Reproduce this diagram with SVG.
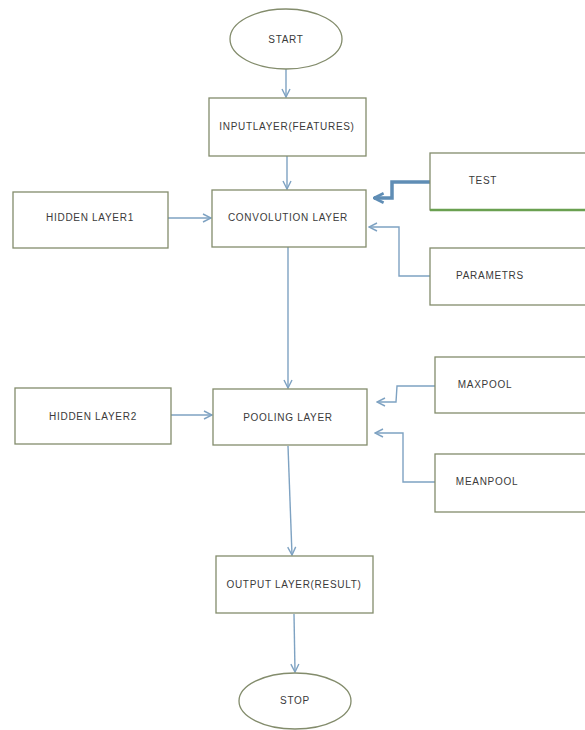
<svg xmlns="http://www.w3.org/2000/svg" width="585" height="730" viewBox="0 0 585 730">
<style>
.box{fill:#fff;stroke:#838c6c;stroke-width:1.3}
.lbl{font-family:"Liberation Sans",Arial,sans-serif;font-size:10px;letter-spacing:0.7px;fill:#3a3a3a;text-anchor:middle;dominant-baseline:middle}
.c{fill:none;stroke:#7ea2c2;stroke-width:1.4}
.ct{fill:none;stroke:#5f8db5;stroke-width:3.5}
</style>
<defs>
<marker id="ah" viewBox="0 0 10 10" refX="9" refY="5" markerWidth="10" markerHeight="10" markerUnits="userSpaceOnUse" orient="auto">
<path d="M1,1 L9,5 L1,9" fill="none" stroke="#7ea2c2" stroke-width="1.4"/>
</marker>
<marker id="aht" viewBox="0 0 10 10" refX="9" refY="5" markerWidth="12" markerHeight="12" markerUnits="userSpaceOnUse" orient="auto">
<path d="M1,1 L9,5 L1,9" fill="none" stroke="#5f8db5" stroke-width="2.2"/>
</marker>
</defs>
<rect width="585" height="730" fill="#fff"/>
<g id="connectors">
<path class="c" d="M286,69 V97" marker-end="url(#ah)"/>
<path class="c" d="M287,156 V189" marker-end="url(#ah)"/>
<path class="c" d="M168,218 H211" marker-end="url(#ah)"/>
<path class="ct" d="M430,182 H392 V198 H374" marker-end="url(#aht)"/>
<path class="c" d="M430,276 H399 V227 H369" marker-end="url(#ah)"/>
<path class="c" d="M288,247 V388" marker-end="url(#ah)"/>
<path class="c" d="M171,415 H212" marker-end="url(#ah)"/>
<path class="c" d="M435,386 H397 L396,402 H377" marker-end="url(#ah)"/>
<path class="c" d="M435,482 H403 V433 H375" marker-end="url(#ah)"/>
<path class="c" d="M288,446 L292,555" marker-end="url(#ah)"/>
<path class="c" d="M294,614 L295,672" marker-end="url(#ah)"/>
</g>
<g id="start"><ellipse class="box" cx="286" cy="39" rx="56" ry="30"/><text class="lbl" x="286" y="40">START</text></g>
<g id="input"><rect class="box" x="209" y="98" width="157" height="58"/><text class="lbl" x="287" y="127">INPUTLAYER(FEATURES)</text></g>
<g id="hidden1"><rect class="box" x="13" y="192" width="155" height="56"/><text class="lbl" x="90" y="218">HIDDEN LAYER1</text></g>
<g id="conv"><rect class="box" x="212" y="190" width="154" height="57"/><text class="lbl" x="288" y="218">CONVOLUTION LAYER</text></g>
<g id="test"><rect class="box" x="430" y="153" width="160" height="57"/><line x1="430" y1="210" x2="585" y2="210" stroke="#6aa050" stroke-width="2.5"/><text class="lbl" x="483" y="181">TEST</text></g>
<g id="params"><rect class="box" x="430" y="248" width="160" height="57"/><text class="lbl" x="490" y="276">PARAMETRS</text></g>
<g id="hidden2"><rect class="box" x="15" y="388" width="156" height="56"/><text class="lbl" x="93" y="417">HIDDEN LAYER2</text></g>
<g id="pool"><rect class="box" x="213" y="389" width="154" height="56"/><text class="lbl" x="288" y="418">POOLING LAYER</text></g>
<g id="maxpool"><rect class="box" x="435" y="357" width="155" height="56"/><text class="lbl" x="485" y="385">MAXPOOL</text></g>
<g id="meanpool"><rect class="box" x="435" y="454" width="155" height="58"/><text class="lbl" x="487" y="482">MEANPOOL</text></g>
<g id="output"><rect class="box" x="216" y="556" width="157" height="57"/><text class="lbl" x="294" y="585">OUTPUT LAYER(RESULT)</text></g>
<g id="stop"><ellipse class="box" cx="295" cy="701" rx="56" ry="28"/><text class="lbl" x="295" y="701">STOP</text></g>
</svg>
